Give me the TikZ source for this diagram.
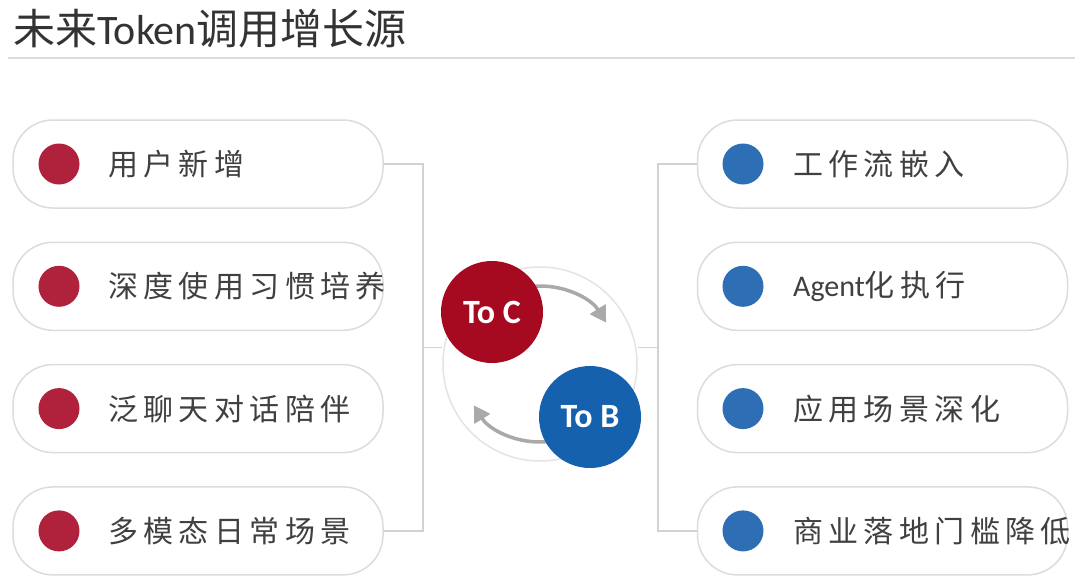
\documentclass[tikz,border=0pt]{standalone}
\usepackage{fontspec}
\setmainfont{Carlito}
\newfontfamily\cjk[LetterSpace=18]{Noto Sans CJK SC}
\newfontfamily\cjktitle{Noto Sans CJK SC}
\usepackage{tikz}
\usetikzlibrary{arrows.meta}
\definecolor{boxgray}{HTML}{DCDCDC}
\definecolor{linegray}{HTML}{D2D2D2}
\definecolor{ringgray}{HTML}{E4E4E4}
\definecolor{arrowgray}{HTML}{A9A9A9}
\definecolor{dotred}{HTML}{B0213B}
\definecolor{dotblue}{HTML}{2E6EB5}
\definecolor{hubred}{HTML}{A50A21}
\definecolor{hubblue}{HTML}{1561AD}
\definecolor{textgray}{HTML}{404040}
\definecolor{titlegray}{HTML}{333333}
\newcommand{\gap}{122.3}
\newcommand{\leftitem}[3]{\node[itembox] (#1) at (198,164+#2*\gap) {};
  \node[dot, fill=dotred] (#1dot) at (59,164+#2*\gap) {};
  \node[itemtext] (#1txt) at (108,164+#2*\gap) {#3};}
\newcommand{\rightitem}[3]{\node[itembox] (#1) at (882.5,164+#2*\gap) {};
  \node[dot, fill=dotblue] (#1dot) at (743,164+#2*\gap) {};
  \node[itemtext] (#1txt) at (793,164+#2*\gap) {#3};}

\begin{document}
\begin{tikzpicture}[x=1pt,y=-1pt,
    itembox/.style={draw=boxgray, line width=1.5pt, rounded corners=40pt, minimum width=370pt, minimum height=88pt},
    dot/.style={circle, inner sep=0pt, minimum size=41pt},
    itemtext/.style={anchor=west, inner sep=0pt, text=textgray, font=\fontsize{30}{36}\selectfont\cjk},
    hub/.style={circle, inner sep=0pt, minimum size=102pt, text=white, font=\fontsize{34}{40}\selectfont\bfseries},
    link/.style={draw=linegray, line width=1.5pt},
    flow/.style={draw=arrowgray, line width=3.5pt, -{Triangle[length=16pt,width=18pt]}}]
    \fill[white] (0,0) rectangle (1080,584);
    \useasboundingbox (0,0) rectangle (1080,584);
    \node[anchor=base west, inner sep=0pt, text=titlegray, font=\fontsize{42}{48}\selectfont] (title) at (13,44) {{\cjktitle 未来}Token{\cjktitle 调用增长源}};
    \draw[draw=boxgray, line width=1.5pt] (8,58) coordinate (rulea) -- (1075,58) coordinate (ruleb);
    \leftitem{L1}{0}{用户新增}
    \leftitem{L2}{1}{深度使用习惯培养}
    \leftitem{L3}{2}{泛聊天对话陪伴}
    \leftitem{L4}{3}{多模态日常场景}
    \rightitem{R1}{0}{工作流嵌入}
    \rightitem{R2}{1}{{\rmfamily Agent}化执行}
    \rightitem{R3}{2}{应用场景深化}
    \rightitem{R4}{3}{商业落地门槛降低}
    \node[circle, draw=ringgray, line width=1.5pt, inner sep=0pt, minimum size=194pt] (ring) at (540,364) {};
    \coordinate (jl) at (423,347.5);
    \coordinate (jr) at (658,347.5);
    \draw[link] (L1.east) -| (jl) |- (L4.east);
    \draw[link] (jl) -- (ring.west |- jl);
    \draw[link] (R1.west) -| (jr) |- (R4.west);
    \draw[link] (jr) -- (ring.east |- jr);
    \draw[flow] ([shift={(-95:78)}]ring.center) arc[start angle=-95, end angle=-32, radius=78];
    \draw[flow] ([shift={(85:78)}]ring.center) arc[start angle=85, end angle=148, radius=78];
    \node[hub, fill=hubred] (toc) at (492,312) {To C};
    \node[hub, fill=hubblue] (tob) at (590,417) {To B};
\end{tikzpicture}
\end{document}
